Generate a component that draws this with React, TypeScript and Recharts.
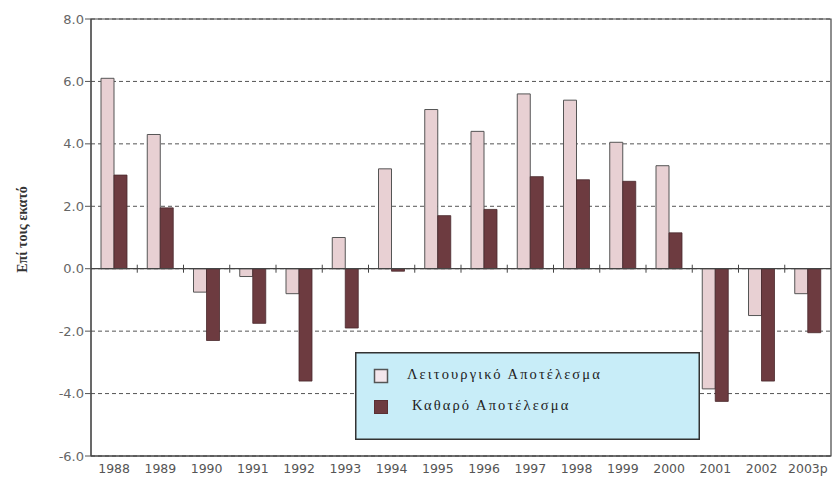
import React from 'react';
import { BarChart, Bar, XAxis, YAxis, CartesianGrid, ReferenceLine, ReferenceArea, Legend } from 'recharts';

const years = ['1988', '1989', '1990', '1991', '1992', '1993', '1994', '1995', '1996', '1997', '1998', '1999', '2000', '2001', '2002', '2003p'];
const operating = [6.1, 4.3, -0.75, -0.25, -0.8, 1.0, 3.2, 5.1, 4.4, 5.6, 5.4, 4.05, 3.3, -3.85, -1.5, -0.8];
const net = [3.0, 1.95, -2.3, -1.75, -3.6, -1.9, -0.08, 1.7, 1.9, 2.95, 2.85, 2.8, 1.15, -4.25, -3.6, -2.05];
const yTicks = [-6, -4, -2, 0, 2, 4, 6, 8];
const seriesNames = ['Λειτουργικό Αποτέλεσμα', 'Καθαρό Αποτέλεσμα'];
const yLabel = 'Επί τοις εκατό';

const data = years.map((y, i) => ({ year: y, op: operating[i], net: net[i] }));

const LIGHT = '#e8d0d3';
const DARK = '#6d3b40';
const SERIF = "'Liberation Serif', 'Times New Roman', 'DejaVu Serif', serif";

const ZeroLine = (props: any) => {
  const { x1, y1, x2 } = props;
  const n = years.length;
  const step = (x2 - x1) / n;
  const ticks = [];
  for (let i = 1; i < n; i++) {
    const x = x1 + step * i;
    ticks.push(<line key={i} x1={x} x2={x} y1={y1 - 4} y2={y1 + 4} stroke="#444" strokeWidth={1} />);
  }
  return (
    <g>
      <line x1={x1} x2={x2} y1={y1} y2={y1} stroke="#444" strokeWidth={1.2} />
      {ticks}
    </g>
  );
};

const LegendBox = () => (
  <svg width={345} height={88} style={{ display: 'block' }}>
    <rect x={0.75} y={0.75} width={343.5} height={86.5} fill="#c8edf8" stroke="#333" strokeWidth={1.5} />
    {seriesNames.map((name, i) => (
      <g key={name}>
        <rect
          x={19.5}
          y={17.5 + i * 31}
          width={13}
          height={13}
          fill={i === 0 ? '#f4e6ec' : DARK}
          stroke={i === 0 ? '#555' : '#5a3034'}
          strokeWidth={i === 0 ? 1.5 : 1}
        />
        <text
          x={i === 0 ? 52 : 57}
          y={24 + i * 31}
          dominantBaseline="middle"
          fontFamily={SERIF}
          fontSize={14.5}
          letterSpacing={2.1}
          fill="#222"
        >
          {name}
        </text>
      </g>
    ))}
  </svg>
);

const YLabel = (props: any) => {
  const vb = props.viewBox || {};
  const cx = (vb.x || 0) + 24;
  const cy = (vb.y || 0) + (vb.height || 0) / 2 - 8;
  return (
    <text
      x={cx}
      y={cy}
      transform={`rotate(-90 ${cx} ${cy})`}
      textAnchor="middle"
      dominantBaseline="middle"
      fontFamily={SERIF}
      fontWeight="bold"
      fontSize={14}
      fill="#333"
    >
      {yLabel}
    </text>
  );
};

export default function App() {
  return (
    <div style={{ position: 'absolute', left: 0, top: 0, width: 837, height: 479, background: '#fff' }}>
      <BarChart
        width={837}
        height={479}
        data={data}
        margin={{ top: 19, right: 6, bottom: 0, left: 0 }}
        barGap={0}
        barSize={13}
      >
        <CartesianGrid vertical={false} stroke="#555" strokeDasharray="4 3" />
        <XAxis
          dataKey="year"
          interval={0}
          height={23}
          axisLine={{ stroke: '#444' }}
          tickLine={false}
          tick={{ fontFamily: "'DejaVu Sans', sans-serif", fontSize: 12.5, fill: '#555' }}
        />
        <YAxis
          domain={[-6, 8]}
          ticks={yTicks}
          width={91}
          interval={0}
          tickFormatter={(v: number) => v.toFixed(1)}
          axisLine={{ stroke: '#444' }}
          tickLine={{ stroke: '#555' }}
          tickSize={6}
          tickMargin={1}
          tick={{ fontFamily: "'DejaVu Sans', sans-serif", fontSize: 13, fill: '#666' }}
          label={<YLabel />}
        />
        <ReferenceArea y1={-6} y2={8} fill="none" fillOpacity={0} stroke="#444" strokeWidth={1.2} />
        <Bar dataKey="op" name={seriesNames[0]} fill={LIGHT} stroke="#555" strokeWidth={1} isAnimationActive={false} />
        <Bar dataKey="net" name={seriesNames[1]} fill={DARK} stroke="#4a2a2d" strokeWidth={0.8} isAnimationActive={false} />
        <ReferenceLine y={0} shape={<ZeroLine />} />
        <Legend
          layout="horizontal"
          verticalAlign="middle"
          align="center"
          content={<LegendBox />}
          wrapperStyle={{ left: 355, top: 352, width: 345, height: 88 }}
        />
      </BarChart>
    </div>
  );
}
